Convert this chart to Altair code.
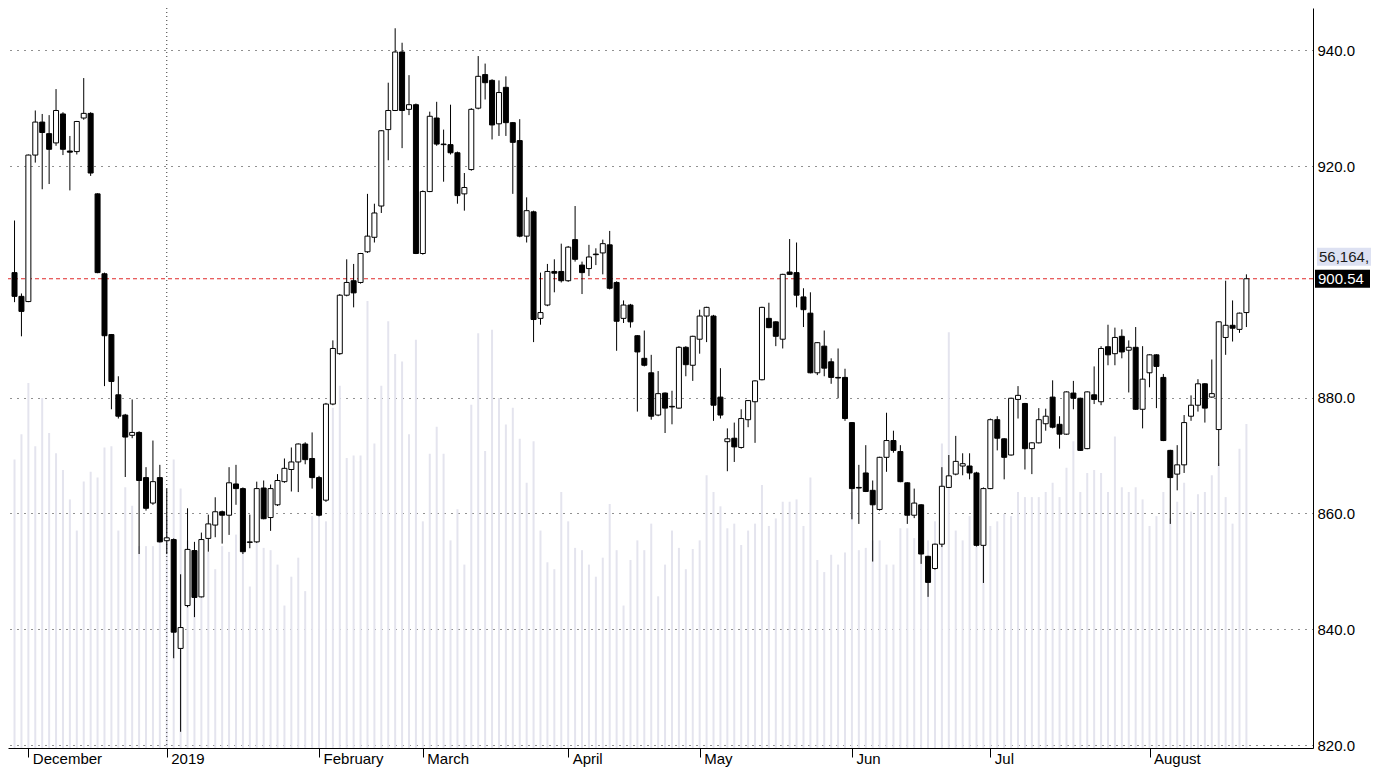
import altair as alt
import pandas as pd

# ---- data (one value per trading day, Nov 29 2018 .. Aug 21 2019) ----
opens = [
    901.6, 897.5,
    896.6, 921.9, 927.6, 925.6, 924.0, 929.0, 922.6, 922.5, 928.3, 929.1, 915.2, 901.4, 890.9, 880.5, 877.0,
    873.5, 874.0, 866.2, 861.8, 866.2,
    855.3, 855.5, 836.7, 844.1, 853.6, 845.6, 855.7, 858.0, 860.3, 859.7, 865.1, 864.3, 855.0, 855.1, 864.4,
    859.3, 861.5, 865.5, 867.6, 868.9, 872.0, 869.5,
    866.2, 862.3, 878.9, 887.6, 897.7, 900.2, 899.9, 905.2, 907.7, 913.1, 926.3, 929.6, 939.7, 929.8, 930.6,
    904.9, 915.6, 928.3, 923.8, 923.7, 922.3, 915.2, 919.4, 930.0, 935.8, 934.8, 927.3, 933.6, 927.5, 924.4,
    907.9, 912.1, 893.7, 896.0, 901.8, 901.8,
    900.2, 907.3, 902.9, 902.3, 904.8, 905.0, 906.4, 899.9, 893.7, 896.0, 890.7, 886.8, 884.3, 877.0, 880.8,
    878.5, 878.2, 888.7, 885.6,
    890.1, 894.1, 894.1, 880.1, 872.4, 873.0, 871.4, 876.2, 879.3, 883.1, 893.7, 893.1, 890.1, 901.7, 901.6,
    897.4, 894.6, 884.3, 888.9, 886.2, 883.5, 883.5,
    875.7, 864.5, 867.0, 864.0, 860.7, 869.7, 872.6, 870.7, 865.3, 859.7, 861.5, 852.6, 850.5, 854.7, 864.5,
    866.8, 868.2, 868.2, 867.0, 854.5,
    864.3, 876.2, 872.9, 870.1, 879.7, 879.0, 871.2, 872.2, 875.5, 880.1, 875.4, 873.7, 880.8, 879.9, 871.2,
    880.5, 879.3, 888.8, 887.6, 890.6, 888.2, 888.7, 878.0,
    884.3, 887.4, 883.5, 870.9, 866.8, 868.4, 876.8, 878.7, 882.4, 880.1, 874.5, 890.4, 892.5, 891.8, 894.7,
]
highs = [
    910.6, 898.0,
    922.0, 929.6, 929.0, 928.8, 933.3, 929.3, 925.2, 927.8, 935.2, 929.3, 915.3, 901.6, 891.0, 883.7, 877.2,
    879.7, 874.2, 868.0, 872.6, 868.4,
    864.3, 855.7, 849.5, 860.9, 855.1, 856.7, 859.8, 862.8, 860.5, 868.0, 868.4, 864.5, 859.8, 865.5, 865.7,
    865.0, 866.8, 869.5, 871.4, 872.1, 872.3, 874.0,
    866.5, 879.1, 889.9, 897.9, 903.9, 903.1, 905.0, 915.2, 913.5, 926.2, 934.4, 943.8, 941.3, 935.7, 930.8,
    915.8, 929.4, 931.1, 926.3, 930.6, 922.5, 918.8, 930.0, 939.0, 937.7, 935.0, 934.8, 935.5, 927.6, 928.1,
    914.6, 912.3, 901.6, 903.1, 903.9, 906.6,
    906.2, 913.1, 903.5, 906.4, 905.8, 907.3, 908.8, 900.1, 896.8, 896.2, 890.8, 891.6, 887.4, 884.6, 880.9,
    881.2, 888.9, 888.9, 890.7,
    895.2, 895.7, 894.3, 885.1, 874.7, 875.7, 878.0, 879.6, 883.0, 895.7, 896.4, 893.2, 901.4, 907.4, 906.8,
    898.9, 898.2, 889.6, 891.6, 886.8, 888.5, 885.0,
    875.8, 868.4, 871.8, 865.7, 869.8, 877.4, 874.3, 871.8, 865.4, 864.3, 861.6, 852.7, 854.8, 868.0, 870.1,
    873.4, 870.4, 870.4, 867.2, 864.5,
    876.4, 876.8, 873.0, 880.0, 882.0, 879.1, 872.3, 878.2, 878.1, 883.0, 876.8, 881.1, 882.9, 880.0, 881.1,
    885.4, 888.9, 892.6, 892.1, 891.8, 889.9, 892.2, 888.9,
    887.5, 887.5, 884.1, 871.0, 871.8, 877.0, 880.4, 883.2, 882.5, 886.6, 893.2, 900.2, 896.8, 894.7, 901.3,
]
lows = [
    896.5, 890.6,
    896.5, 920.6, 916.0, 916.9, 923.5, 921.9, 915.8, 922.0, 928.0, 918.3, 901.5, 882.0, 878.0, 876.4, 866.3,
    873.0, 853.0, 860.5, 861.5, 855.0,
    853.0, 835.0, 822.3, 843.8, 842.1, 845.5, 853.4, 855.9, 854.8, 856.3, 861.5, 853.0, 854.0, 854.9, 859.0,
    857.0, 861.3, 865.3, 863.8, 863.7, 868.5, 864.3,
    859.5, 862.0, 878.7, 887.4, 897.5, 895.6, 899.7, 905.0, 906.8, 911.9, 921.0, 929.5, 923.1, 928.8, 904.8,
    904.7, 915.5, 923.5, 917.3, 922.0, 913.5, 912.3, 919.2, 929.8, 931.5, 924.6, 925.2, 925.2, 915.2, 907.7,
    906.8, 889.6, 892.6, 895.8, 898.2, 899.9,
    900.0, 903.5, 897.9, 901.0, 902.9, 901.3, 898.7, 888.1, 892.9, 892.1, 877.6, 885.4, 876.2, 876.8, 873.9,
    875.4, 878.1, 883.7, 882.9,
    887.6, 889.6, 876.0, 876.4, 867.3, 868.9, 871.2, 874.9, 872.2, 883.0, 892.0, 888.9, 888.5, 901.2, 895.6,
    892.2, 884.2, 883.9, 883.7, 882.4, 879.9, 876.0,
    859.0, 858.2, 863.7, 851.7, 860.5, 867.2, 870.5, 865.4, 858.2, 859.2, 851.3, 845.6, 850.3, 854.2, 864.4,
    866.6, 866.6, 865.9, 854.3, 848.0,
    864.2, 870.9, 865.9, 870.0, 876.4, 867.6, 866.8, 872.1, 874.3, 874.7, 871.2, 873.6, 878.0, 870.8, 871.1,
    878.9, 878.7, 885.6, 885.6, 886.8, 880.9, 877.9, 874.7,
    881.8, 878.2, 872.5, 858.2, 864.0, 867.0, 876.0, 877.6, 875.7, 880.0, 868.2, 887.4, 889.7, 891.2, 892.2,
]
closes = [
    897.5, 894.9,
    921.9, 927.6, 925.8, 922.9, 929.6, 922.9, 922.4, 927.7, 929.1, 918.8, 901.6, 890.7, 882.8, 876.8, 873.2,
    874.0, 865.7, 860.9, 865.5, 855.1,
    855.8, 839.5, 840.3, 853.8, 845.5, 855.5, 858.2, 860.3, 859.7, 865.3, 864.3, 853.4, 855.1, 864.3, 859.1,
    864.3, 865.7, 867.8, 868.9, 872.0, 869.3, 866.2,
    859.7, 878.9, 888.5, 897.7, 899.9, 898.1, 904.9, 907.9, 911.9, 926.1, 929.6, 939.7, 929.6, 930.6, 904.9,
    915.6, 928.6, 923.8, 923.7, 922.3, 914.9, 916.3, 929.8, 935.5, 934.4, 927.1, 932.7, 927.5, 924.1, 907.9,
    912.3, 893.5, 894.7, 901.8, 901.5, 900.2,
    906.0, 903.9, 901.6, 904.3, 904.7, 906.6, 898.9, 893.2, 896.0, 893.1, 887.9, 885.6, 876.8, 880.7, 878.2,
    878.4, 888.7, 885.7, 890.6,
    894.1, 895.6, 878.7, 877.0, 872.9, 871.5, 876.4, 879.5, 882.9, 895.6, 892.1, 890.6, 901.3, 901.3, 897.7,
    895.2, 884.3, 889.5, 885.1, 883.5, 883.4, 876.4,
    864.3, 864.4, 863.8, 861.5, 869.7, 872.6, 870.9, 865.5, 859.7, 861.8, 853.0, 848.1, 854.7, 864.7, 866.5,
    869.0, 868.6, 867.0, 854.5, 864.3,
    876.2, 873.0, 869.7, 879.9, 880.4, 871.2, 872.2, 876.2, 876.8, 874.9, 873.7, 881.0, 879.9, 870.9, 881.0,
    879.7, 888.5, 887.4, 890.4, 887.9, 888.7, 878.0, 883.2,
    887.4, 885.4, 872.6, 866.2, 868.4, 875.7, 878.7, 882.4, 878.2, 880.7, 893.1, 892.5, 892.0, 894.6, 900.54,
]
# volume, millions of shares
volumes = [
    50.0, 54.4,
    63.3, 52.3, 60.7, 54.6, 51.1, 48.2, 43.1, 37.7, 46.2, 47.9, 46.9, 52.1, 52.3, 37.7, 45.2,
    42.0, 35.0, 35.0, 35.0, 41.0,
    40.0, 50.0, 45.0, 36.0, 33.0, 30.0, 34.0, 31.0, 35.0, 34.0, 37.0, 33.9, 28.0, 35.6, 34.7,
    34.3, 31.8, 24.7, 29.7, 33.0, 27.2, 40.2,
    41.9, 39.3, 59.0, 62.8, 50.3, 50.7, 50.7, 77.5, 52.8, 62.8, 74.0, 68.3, 67.0, 54.4, 70.8,
    39.3, 51.0, 55.7, 51.0, 36.0, 41.4, 31.8, 59.5, 71.9, 51.5, 72.5, 60.7, 56.1, 59.0, 53.6,
    46.0, 53.2, 37.7, 32.2, 31.0, 44.4,
    39.3, 34.7, 34.3, 31.8, 29.7, 33.0, 42.3, 34.3, 24.7, 32.6, 36.0, 34.3, 38.9, 26.3, 31.8,
    37.7, 34.7, 31.0, 34.5,
    36.0, 47.3, 44.4, 41.9, 38.1, 38.9, 35.2, 37.7, 38.9, 45.6, 38.5, 39.8, 42.7, 42.7, 43.1,
    38.5, 46.9, 32.6, 30.5, 33.5, 31.8, 33.9,
    44.4, 34.3, 34.7, 36.0, 36.0, 31.8, 31.8, 38.1, 38.1, 36.4, 40.2, 36.0, 39.3, 52.8, 72.1,
    37.7, 36.0, 40.2, 40.2, 36.8,
    38.5, 39.3, 40.6, 40.2, 44.4, 43.5, 43.5, 43.5, 44.4, 46.0, 43.5, 48.6, 53.2, 44.4, 47.7,
    48.2, 47.7, 44.4, 54.0, 45.2, 44.4, 45.2, 43.1,
    38.5, 40.2, 44.4, 39.8, 42.7, 46.0, 41.0, 44.0, 44.4, 47.3, 49.4, 43.5, 38.9, 51.9, 56.164,
]

month_labels = ["December", "2019", "February", "March", "April", "May", "Jun", "Jul", "August"]
month_starts = [2, 22, 44, 59, 80, 99, 121, 141, 164]   # trading-day index of each month's first session
year_break = [22]
price_ticks = [820, 840, 860, 880, 920, 940]
last_price_text = "900.54"
last_volume_text = "56,164,"

n = len(closes)
assert all(len(a) == n for a in (opens, highs, lows, volumes))

df = pd.DataFrame({
    "idx": list(range(n)), "open": opens, "high": highs, "low": lows,
    "close": closes, "volume": volumes,
})

W, H = 1305, 740
X_DOM = [-0.22, 186.9]
Y_DOM = [819.5, 947.3]
V_DOM = [0, 128.3]
pxu = H / (Y_DOM[1] - Y_DOM[0])
FONT = "Liberation Sans"

last_close = closes[-1]

label_expr = " : ".join(
    f"datum.value == {s} ? '{m}'" for s, m in zip(month_starts, month_labels)
) + " : ''"

xs = alt.Scale(domain=X_DOM, nice=False, zero=False)
ys = alt.Scale(domain=Y_DOM, nice=False, zero=False)

x_axis = alt.Axis(
    values=month_starts, labelExpr=label_expr, grid=False, title=None,
    domainColor="black", tickColor="black", tickSize=9, ticks=True,
    labelAlign="left", labelBaseline="top", labelOffset=4, labelPadding=-6,
    labelFont=FONT, labelFontSize=15, labelColor="black",
    labelOverlap=False, labelFlush=False,
)
y_axis = alt.Axis(
    orient="right", values=price_ticks, format=".1f", title=None,
    grid=True, gridDash=[1, 6], gridColor="#222222", gridWidth=1,
    ticks=False, labelPadding=4, domainColor="black",
    labelFont=FONT, labelFontSize=15, labelColor="black",
)

X = alt.X("idx:Q", scale=xs, axis=x_axis)

vol = alt.Chart(df).mark_rule(color="#e4e4ee", strokeWidth=2, clip=True).encode(
    x=X,
    y=alt.Y("volume:Q", scale=alt.Scale(domain=V_DOM, nice=False, zero=True), axis=None),
    y2=alt.datum(0),
)

ref_df = pd.DataFrame({"p": [last_close]})
red_line = alt.Chart(ref_df).mark_rule(color="#e02828", strokeDash=[4, 3], strokeWidth=1).encode(
    y=alt.Y("p:Q", scale=ys, axis=y_axis)
)

yb_df = pd.DataFrame({"idx": year_break})
year_line = alt.Chart(yb_df).mark_rule(color="#333333", strokeDash=[1, 3], strokeWidth=1).encode(x=X)

wicks = alt.Chart(df).mark_rule(color="black", strokeWidth=1, clip=True).encode(
    x=X,
    y=alt.Y("low:Q", scale=ys, axis=y_axis),
    y2="high:Q",
)
bodies = alt.Chart(df).mark_bar(size=5, stroke="black", strokeWidth=1, clip=True).encode(
    x=X,
    y=alt.Y("open:Q", scale=ys, axis=y_axis),
    y2="close:Q",
    fill=alt.condition("datum.close >= datum.open", alt.value("white"), alt.value("black")),
)

half = 9 / pxu
vol_center = last_close + 22 / pxu
box_df = pd.DataFrame({
    "y1": [vol_center - half, last_close - half],
    "y2": [vol_center + half, last_close + half],
    "kind": ["vol", "price"],
})
vol_box = alt.Chart(box_df[box_df.kind == "vol"]).mark_rect(color="#dde1f2").encode(
    x=alt.value(W + 4), x2=alt.value(W + 90),
    y=alt.Y("y1:Q", scale=ys, axis=y_axis), y2="y2:Q",
)
price_box = alt.Chart(box_df[box_df.kind == "price"]).mark_rect(color="black").encode(
    x=alt.value(W + 2), x2=alt.value(W + 57),
    y=alt.Y("y1:Q", scale=ys, axis=y_axis), y2="y2:Q",
)
txt_df = pd.DataFrame({"p": [vol_center, last_close], "t": [last_volume_text, last_price_text],
                       "c": ["#1a1a1a", "white"]})
vol_txt = alt.Chart(txt_df.iloc[[0]]).mark_text(
    align="left", baseline="middle", font=FONT, fontSize=15, color="#1a1a1a"
).encode(x=alt.value(W + 6), y=alt.Y("p:Q", scale=ys, axis=y_axis), text="t:N")
price_txt = alt.Chart(txt_df.iloc[[1]]).mark_text(
    align="left", baseline="middle", font=FONT, fontSize=15, color="white"
).encode(x=alt.value(W + 5), y=alt.Y("p:Q", scale=ys, axis=y_axis), text="t:N")

price = alt.layer(red_line, year_line, wicks, bodies, vol_box, price_box, vol_txt, price_txt)

chart = alt.layer(vol, price).resolve_scale(y="independent").properties(
    width=W, height=H,
    autosize=alt.AutoSizeParams(type="none"),
    padding={"left": 0, "top": 0, "right": 58, "bottom": 20},
    background="white",
).configure_view(strokeWidth=0)

chart.save("out.html", embed_options={"renderer": "svg", "actions": False})
